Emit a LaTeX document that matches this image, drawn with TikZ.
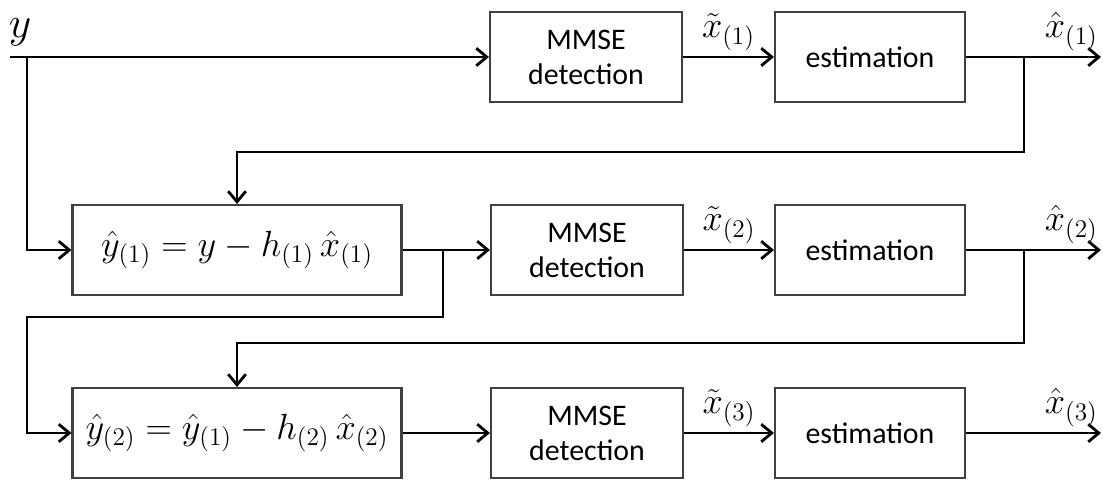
\documentclass[tikz,border=0pt]{standalone}
\usepackage{fontspec}
\setmainfont{Carlito}
\usetikzlibrary{positioning,arrows.meta}

\begin{document}
\begin{tikzpicture}[x=0.02cm,y=-0.02cm,line width=1.6pt,
    >={Straight Barb[length=6pt,width=10pt]},
    blk/.style={draw=black!75,line width=1.2pt,minimum height=1.8cm,align=center,
        font=\fontsize{17}{20}\selectfont},
    det/.style={blk,minimum width=3.84cm},
    est/.style={blk,minimum width=3.8cm},
    sub/.style={blk,minimum width=6.58cm,font=\fontsize{20}{24}\selectfont},
    lbl/.style={above,font=\fontsize{20}{24}\selectfont,inner sep=3pt}]
    \useasboundingbox (0,0) rectangle (1103,485);
    % blocks
    \node[det] (det1) at (586,57) {MMSE\\detection};
    \node[est] (est1) at (870,57) {estimation};
    \node[sub] (sub1) at (237,250) {$\hat{y}_{(1)} = y - h_{(1)}\,\hat{x}_{(1)}$};
    \node[det] (det2) at (587,250) {MMSE\\detection};
    \node[est] (est2) at (870,250) {estimation};
    \node[sub] (sub2) at (237,433) {$\hat{y}_{(2)} = \hat{y}_{(1)} - h_{(2)}\,\hat{x}_{(2)}$};
    \node[det] (det3) at (587,433) {MMSE\\detection};
    \node[est] (est3) at (870,433) {estimation};
    % free ends and bends
    \coordinate (in) at (10,57);
    \coordinate (split) at (27,57);
    \node[font=\fontsize{24}{28}\selectfont,inner sep=0pt] (ylab) at (20,32) {$y$};
    \coordinate (out1) at (1101,57);
    \coordinate (out2) at (1101,250);
    \coordinate (out3) at (1101,433);
    \coordinate (tap1) at (1024,57);
    \coordinate (fb1) at (237,152);
    \coordinate (tap2) at (443,250);
    \coordinate (turn2) at (27,317);
    \coordinate (tap3) at (1024,250);
    \coordinate (fb2) at (237,343);
    % row 1
    \draw[->] (in) -- (det1);
    \draw[->] (det1) -- node[lbl,pos=0.5] {$\tilde{x}_{(1)}$} (est1);
    \draw[->] (est1) -- node[lbl,pos=0.78] {$\hat{x}_{(1)}$} (out1);
    \draw[->] (split) |- (sub1);
    \draw[->] (tap1) |- (fb1) -- (sub1);
    % row 2
    \draw[->] (sub1) -- (det2);
    \draw[->] (det2) -- node[lbl,pos=0.5] {$\tilde{x}_{(2)}$} (est2);
    \draw[->] (est2) -- node[lbl,pos=0.78] {$\hat{x}_{(2)}$} (out2);
    \draw[->] (tap2) |- (turn2) |- (sub2);
    \draw[->] (tap3) |- (fb2) -- (sub2);
    % row 3
    \draw[->] (sub2) -- (det3);
    \draw[->] (det3) -- node[lbl,pos=0.5] {$\tilde{x}_{(3)}$} (est3);
    \draw[->] (est3) -- node[lbl,pos=0.78] {$\hat{x}_{(3)}$} (out3);
\end{tikzpicture}
\end{document}
